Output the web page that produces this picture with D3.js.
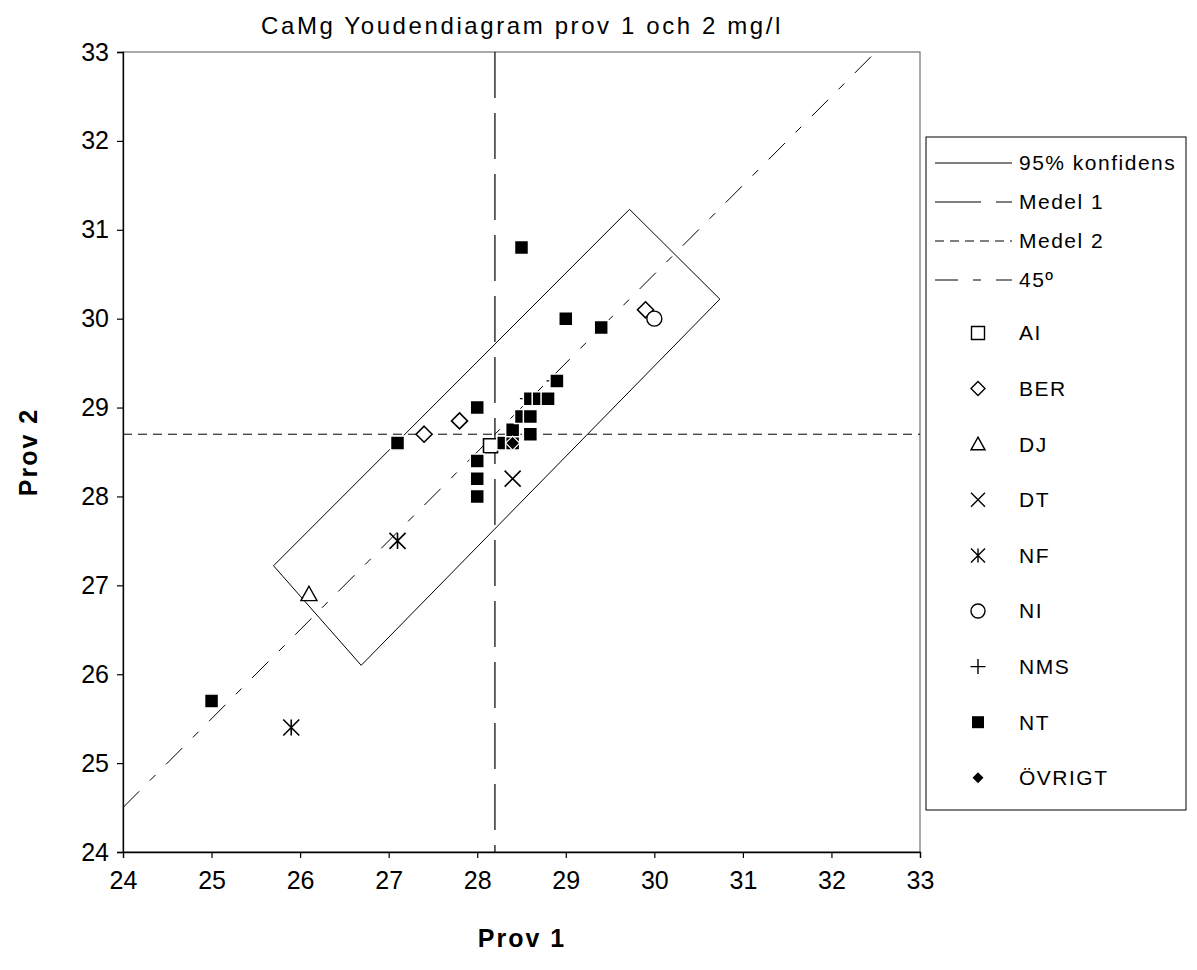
<!DOCTYPE html>
<html>
<head>
<meta charset="utf-8">
<script src="https://cdn.jsdelivr.net/npm/d3@7"></script>
<style>
  html, body { margin: 0; padding: 0; background: #fff; }
  text { font-family: "Liberation Sans", Arial, sans-serif; fill: #000; }
</style>
</head>
<body>
<svg id="chart" width="1197" height="970"></svg>
<script>
// Axis ticks
const xTicks = [24, 25, 26, 27, 28, 29, 30, 31, 32, 33];
const yTicks = [24, 25, 26, 27, 28, 29, 30, 31, 32, 33];

// Laboratory groups: results for sample 1 (x) and sample 2 (y)
const aiX = [28.15];          const aiY = [28.57];
const berX = [27.4, 27.8, 29.9]; const berY = [28.7, 28.85, 30.1];
const djX = [26.1];           const djY = [26.9];
const dtX = [28.4];           const dtY = [28.2];
const nfX = [27.1, 25.9];     const nfY = [27.5, 25.4];
const niX = [30.0];           const niY = [30.0];
const nmsX = [28.55, 28.85];  const nmsY = [29.1, 29.3];
const ntX = [25.0, 27.1, 28.0, 28.0, 28.0, 28.0, 28.3, 28.4, 28.4, 28.5, 28.6, 28.6, 28.6, 28.7, 28.8, 28.9, 28.5, 29.0, 29.4];
const ntY = [25.7, 28.6, 28.0, 28.2, 28.4, 29.0, 28.6, 28.6, 28.75, 28.9, 28.9, 28.7, 29.1, 29.1, 29.1, 29.3, 30.8, 30.0, 29.9];
const ovrX = [28.4];          const ovrY = [28.6];

// Means of sample 1 and 2
const medel1 = 28.2;
const medel2 = 28.7;

// 95 % confidence region corners (sample 1, sample 2)
const konfX = [25.70, 29.72, 30.74, 26.69];
const konfY = [27.22, 31.23, 30.22, 26.10];

const svg = d3.select("#chart");
const x = d3.scaleLinear().domain([24, 33]).range([123, 920]);
const y = d3.scaleLinear().domain([24, 33]).range([852, 52]);

svg.append("defs").append("clipPath").attr("id", "plotclip")
  .append("rect").attr("x", 123).attr("y", 52).attr("width", 797).attr("height", 800);

// Frame
svg.append("rect").attr("x", 123).attr("y", 52).attr("width", 797).attr("height", 800)
  .attr("fill", "none").attr("stroke", "#555").attr("stroke-width", 1);

// Axes
const xAxis = d3.axisBottom(x).tickValues(xTicks).tickSize(6).tickFormat(d3.format("d"));
const yAxis = d3.axisLeft(y).tickValues(yTicks).tickSize(6).tickFormat(d3.format("d"));
const gx = svg.append("g").attr("transform", "translate(0,852)").call(xAxis);
const gy = svg.append("g").attr("transform", "translate(123,0)").call(yAxis);
[gx, gy].forEach(g => {
  g.select(".domain").attr("stroke", "#000").attr("stroke-width", 1.3);
  g.selectAll(".tick line").attr("stroke", "#000").attr("stroke-width", 1.2);
  g.selectAll(".tick text").style("font-family", "Liberation Sans, Arial, sans-serif")
    .style("font-size", "25px").attr("fill", "#000");
});
gx.selectAll(".tick text").attr("dy", "1.1em");
gy.selectAll(".tick text").attr("dx", "-0.2em");

const plot = svg.append("g").attr("clip-path", "url(#plotclip)");

// Confidence region
const konfPts = konfX.map((v, i) => [x(v), y(konfY[i])]);
plot.append("path").attr("d", d3.line()(konfPts) + "Z")
  .attr("fill", "none").attr("stroke", "#000").attr("stroke-width", 1);

// Mean lines
plot.append("line").attr("x1", x(medel1)).attr("x2", x(medel1)).attr("y1", y(33)).attr("y2", y(24))
  .attr("stroke", "#000").attr("stroke-width", 1.2).attr("stroke-dasharray", "46,15");
plot.append("line").attr("x1", x(24)).attr("x2", x(33)).attr("y1", y(medel2)).attr("y2", y(medel2))
  .attr("stroke", "#000").attr("stroke-width", 1).attr("stroke-dasharray", "9,6");

// 45 degree line through the means
const off = medel2 - medel1;
plot.append("line").attr("x1", x(24)).attr("y1", y(24 + off)).attr("x2", x(33 - off)).attr("y2", y(33))
  .attr("stroke", "#000").attr("stroke-width", 1).attr("stroke-dasharray", "23,15,8,15");

// Marker shapes
function shapePath(type, s) {
  const h = s / 2;
  switch (type) {
    case "square": return `M${-h},${-h}H${h}V${h}H${-h}Z`;
    case "diamond": return `M0,${-h}L${h},0L0,${h}L${-h},0Z`;
    case "triangle": return `M0,${-h}L${h},${h * 0.8}L${-h},${h * 0.8}Z`;
    case "x": return `M${-h},${-h}L${h},${h}M${h},${-h}L${-h},${h}`;
    case "star": return `M${-h},${-h}L${h},${h}M${h},${-h}L${-h},${h}M0,${-h}V${h}`;
    case "plus": return `M${-h},0H${h}M0,${-h}V${h}`;
    case "circle": return `M${h},0A${h},${h} 0 1,1 ${-h},0A${h},${h} 0 1,1 ${h},0Z`;
  }
}

const series = [
  { name: "AI", xs: aiX, ys: aiY, shape: "square", size: 14, fill: "#fff", stroke: "#000", sw: 1.6, lsize: 13 },
  { name: "BER", xs: berX, ys: berY, shape: "diamond", size: 16, fill: "#fff", stroke: "#000", sw: 1.6, lsize: 14 },
  { name: "DJ", xs: djX, ys: djY, shape: "triangle", size: 16, fill: "#fff", stroke: "#000", sw: 1.4, lsize: 14 },
  { name: "DT", xs: dtX, ys: dtY, shape: "x", size: 16, fill: "none", stroke: "#000", sw: 1.6, lsize: 14 },
  { name: "NF", xs: nfX, ys: nfY, shape: "star", size: 16, fill: "none", stroke: "#000", sw: 1.6, lsize: 14 },
  { name: "NI", xs: niX, ys: niY, shape: "circle", size: 15, fill: "#fff", stroke: "#000", sw: 1.4, lsize: 14 },
  { name: "NMS", xs: nmsX, ys: nmsY, shape: "plus", size: 12, fill: "none", stroke: "#000", sw: 1.4, lsize: 15 },
  { name: "NT", xs: ntX, ys: ntY, shape: "square", size: 14, fill: "#000", stroke: "#fff", sw: 1.5, lsize: 12 },
  { name: "ÖVRIGT", xs: ovrX, ys: ovrY, shape: "diamond", size: 14, fill: "#000", stroke: "#fff", sw: 1.2, lsize: 11 }
];

// Draw order: plus markers first so filled squares sit above them
const drawOrder = ["NMS", "AI", "BER", "DJ", "DT", "NF", "NI", "NT", "ÖVRIGT"];
drawOrder.forEach(nm => {
  const s = series.find(d => d.name === nm);
  const pts = s.xs.map((v, i) => ({ x: v, y: s.ys[i] }));
  svg.append("g").selectAll("path").data(pts).join("path")
    .attr("transform", d => `translate(${x(d.x)},${y(d.y)})`)
    .attr("d", shapePath(s.shape, s.size))
    .attr("fill", s.fill).attr("stroke", s.stroke).attr("stroke-width", s.sw);
});

// Title and axis titles
svg.append("text").attr("x", 522).attr("y", 34).attr("text-anchor", "middle")
  .style("font-size", "24px").style("letter-spacing", "2.6px")
  .text("CaMg Youdendiagram prov 1 och 2 mg/l");
svg.append("text").attr("x", 522).attr("y", 947).attr("text-anchor", "middle")
  .style("font-size", "25px").style("font-weight", "bold").style("letter-spacing", "2px").text("Prov 1");
svg.append("text").attr("transform", "translate(37,452) rotate(-90)").attr("text-anchor", "middle")
  .style("font-size", "25px").style("font-weight", "bold").style("letter-spacing", "2px").text("Prov 2");

// Legend
const lg = svg.append("g");
lg.append("rect").attr("x", 926).attr("y", 137).attr("width", 260).attr("height", 673)
  .attr("fill", "#fff").attr("stroke", "#000").attr("stroke-width", 1);

const legendFont = "21px";
const legendSpacing = "1.5px";
const lineItems = [
  { label: "95% konfidens", dash: null, y: 163 },
  { label: "Medel 1", dash: "46,15", y: 202 },
  { label: "Medel 2", dash: "9,6", y: 241 },
  { label: "45º", dash: "23,15,8,15", y: 280 }
];
lineItems.forEach(it => {
  lg.append("line").attr("x1", 935).attr("x2", 1012).attr("y1", it.y).attr("y2", it.y)
    .attr("stroke", "#000").attr("stroke-width", 1)
    .attr("stroke-dasharray", it.dash);
  lg.append("text").attr("x", 1019).attr("y", it.y).attr("dy", "0.35em")
    .style("font-size", legendFont).style("letter-spacing", legendSpacing).text(it.label);
});

series.forEach((s, i) => {
  const yy = 333 + i * 55.6;
  lg.append("path").attr("transform", `translate(978,${yy})`)
    .attr("d", shapePath(s.shape, s.lsize))
    .attr("fill", s.fill)
    .attr("stroke", s.fill === "#000" ? "none" : "#000").attr("stroke-width", 1.4);
  lg.append("text").attr("x", 1019).attr("y", yy).attr("dy", "0.35em")
    .style("font-size", legendFont).style("letter-spacing", legendSpacing).text(s.name);
});
</script>
</body>
</html>
